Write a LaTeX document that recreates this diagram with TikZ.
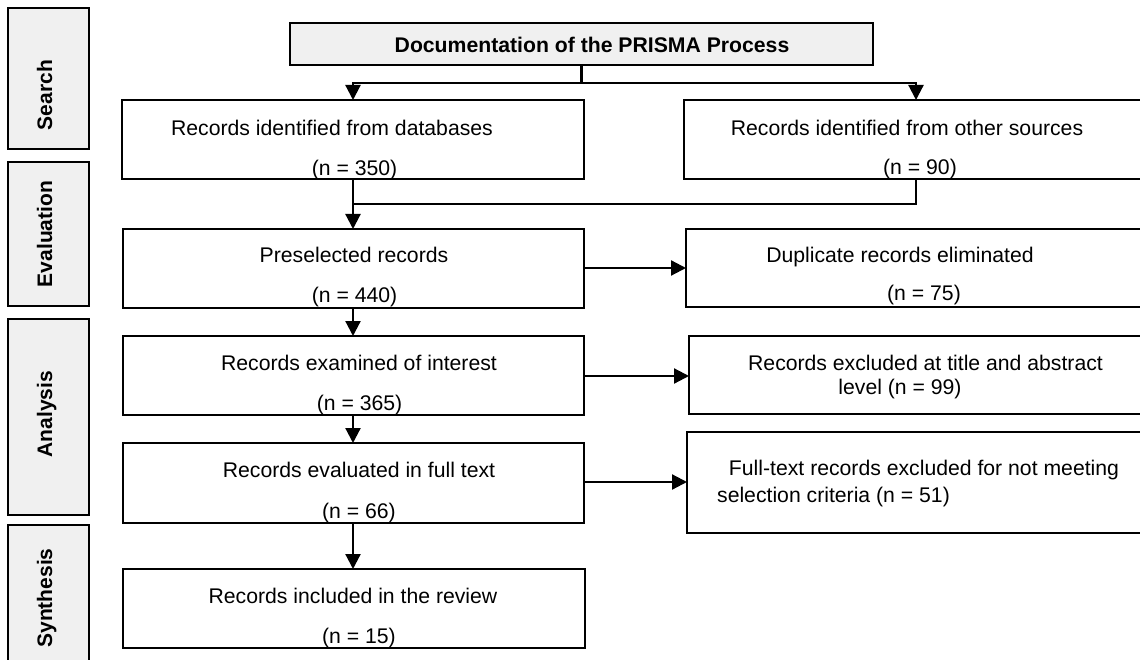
\documentclass[tikz,border=0pt]{standalone}
\usepackage{fontspec}
\setmainfont{Liberation Sans}
\usetikzlibrary{arrows.meta}
\definecolor{panel}{HTML}{F0F0F0}
\begin{document}
\begin{tikzpicture}[x=1pt,y=-1pt,
  font=\fontsize{21.2}{25}\selectfont,
  box/.style={draw=black, line width=1.8pt, inner sep=0pt, outer sep=0pt},
  stagebox/.style={box, fill=panel, minimum width=81pt},
  txt/.style={anchor=base, inner sep=0pt},
  stagetxt/.style={anchor=base, inner sep=0pt, rotate=90, font=\fontsize{21}{25}\selectfont\bfseries},
  link/.style={draw=black, line width=2.2pt},
  arr/.style={link, -{Triangle[length=15pt,width=15pt]}}]
\useasboundingbox (0,0) rectangle (1140,660);
\clip (0,0) rectangle (1140,660);
\fill[white] (0,0) rectangle (1140,660);

% stage panels
\node[stagebox, minimum height=141pt] (sSearch) at (48.5,78.5) {};
\node[stagebox, minimum height=144pt] (sEval) at (48.5,234) {};
\node[stagebox, minimum height=196pt] (sAna) at (48.5,417) {};
\node[stagebox, minimum height=160pt] (sSyn) at (48.5,605) {};
\node[stagetxt] (lSearch) at (52,95) {Search};
\node[stagetxt] (lEval) at (52,234) {Evaluation};
\node[stagetxt] (lAna) at (52,414) {Analysis};
\node[stagetxt] (lSyn) at (52,598) {Synthesis};

% title
\node[box, fill=panel, minimum width=583pt, minimum height=42pt] (title) at (581.5,44) {};
\node[txt, font=\fontsize{21.2}{25}\selectfont\bfseries] (ttitle) at (592,53) {Documentation of the PRISMA Process};

% main boxes
\node[box, minimum width=462pt, minimum height=79pt] (b1) at (353,139.5) {};
\node[box, minimum width=464pt, minimum height=79pt] (b2) at (916,139.5) {};
\node[box, minimum width=461pt, minimum height=79pt] (b3) at (353.5,268.5) {};
\node[box, minimum width=474pt, minimum height=78pt] (b4) at (923,268) {};
\node[box, minimum width=461pt, minimum height=79pt] (b5) at (353.5,375.5) {};
\node[box, minimum width=471pt, minimum height=78pt] (b6) at (924.5,375) {};
\node[box, minimum width=461pt, minimum height=80pt] (b7) at (353.5,483) {};
\node[box, minimum width=473pt, minimum height=101pt] (b8) at (923.5,482.5) {};
\node[box, minimum width=462pt, minimum height=79pt] (b9) at (354,608.5) {};

% texts
\node[txt] (t1a) at (332,136) {Records identified from databases};
\node[txt] (t1b) at (354.5,176) {(n = 350)};
\node[txt] (t2a) at (907,136) {Records identified from other sources};
\node[txt] (t2b) at (920,175) {(n = 90)};
\node[txt] (t3a) at (354,263) {Preselected records};
\node[txt] (t3b) at (354.5,302) {(n = 440)};
\node[txt] (t4a) at (900,263) {Duplicate records eliminated};
\node[txt] (t4b) at (924,301) {(n = 75)};
\node[txt] (t5a) at (359,370) {Records examined of interest};
\node[txt] (t5b) at (359.5,410) {(n = 365)};
\node[txt] (t6a) at (925.5,370) {Records excluded at title and abstract};
\node[txt] (t6b) at (900,394) {level (n = 99)};
\node[txt] (t7a) at (359,477) {Records evaluated in full text};
\node[txt] (t7b) at (359,518) {(n = 66)};
\node[txt] (t8a) at (924,475) {Full-text records excluded for not meeting};
\node[txt] (t8b) at (833.5,502) {selection criteria (n = 51)};
\node[txt] (t9a) at (353,603) {Records included in the review};
\node[txt] (t9b) at (359,643) {(n = 15)};

% connectors
\coordinate (split) at (581.5,83);
\coordinate (merge) at (916,204);
\draw[link] (title.south) -- (split);
\draw[arr] (split) -| (b1.north);
\draw[arr] (split) -| (b2.north);
\draw[link] (b2.south) -- (merge) -- (merge -| b1.south);
\draw[arr] (b1.south) -- (b1.south |- b3.north);
\draw[arr] (b3.east |- 0,268) -- (b4.west |- 0,268);
\draw[arr] (b3.south -| b1.south) -- (b5.north -| b1.south);
\draw[arr] (b5.east |- 0,376) -- (b6.west |- 0,376);
\draw[arr] (b5.south -| b1.south) -- (b7.north -| b1.south);
\draw[arr] (b7.east |- 0,482) -- (b8.west |- 0,482);
\draw[arr] (b7.south -| b1.south) -- (b9.north -| b1.south);
\end{tikzpicture}
\end{document}
